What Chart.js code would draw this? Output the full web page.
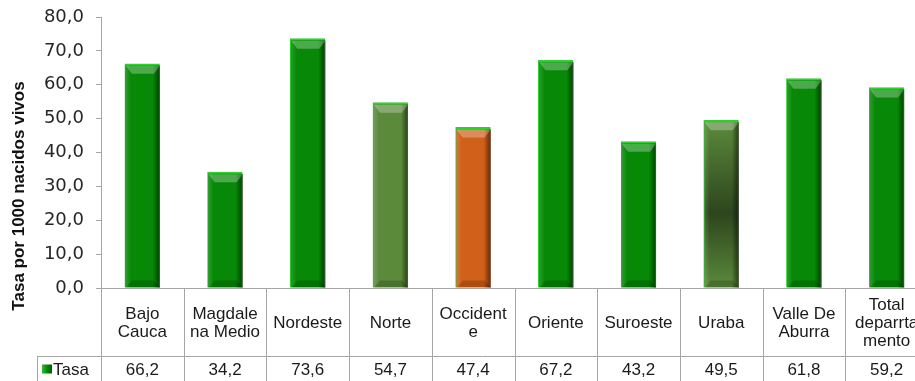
<!DOCTYPE html>
<html>
<head>
<meta charset="utf-8">
<script src="https://cdn.jsdelivr.net/npm/chart.js@4.4.1/dist/chart.umd.min.js"></script>
<style>
  html, body { margin: 0; padding: 0; overflow: hidden; background: #fff; }
  #wrap { width: 940px; height: 381px; }
</style>
</head>
<body>
<div id="wrap"><canvas id="chart" width="940" height="381"></canvas></div>
<script>
// data
const categories = [
  ['Bajo', 'Cauca'], ['Magdale', 'na Medio'], ['Nordeste'], ['Norte'], ['Occident', 'e'],
  ['Oriente'], ['Suroeste'], ['Uraba'], ['Valle De', 'Aburra'], ['Total', 'deparrta', 'mento']
];
const seriesName = 'Tasa';
const tasa = [66.2, 34.2, 73.6, 54.7, 47.4, 67.2, 43.2, 49.5, 61.8, 59.2];
const yMin = 0, yMax = 80, yStep = 10;
const yTitle = 'Tasa por 1000 nacidos vivos';

// styles
const GREEN = '#078907', OLIVE = '#5B8A3B', ORANGE = '#D1601B';
const barColors = [GREEN, GREEN, GREEN, OLIVE, ORANGE, GREEN, GREEN, OLIVE, GREEN, GREEN];
const darkMiddle = [false, false, false, false, false, false, false, true, false, false];
const lineColor = '#a6a6a6';
const tableFont = '17px "Liberation Sans", Arial, sans-serif';

const fmt = v => v.toFixed(1).replace('.', ',');

// 3D bevel look on top of the bars
const bevel = {
  id: 'bevel',
  afterDatasetsDraw(chart) {
    const ctx = chart.ctx;
    const meta = chart.getDatasetMeta(0);
    meta.data.forEach((bar, i) => {
      const p = bar.getProps(['x', 'y', 'base', 'width'], true);
      const l = p.x - p.width / 2 + 1, r = p.x + p.width / 2, t = p.y + 2, b = p.base;
      ctx.save();
      if (darkMiddle[i]) {
        const g = ctx.createLinearGradient(0, t, 0, b);
        g.addColorStop(0, 'rgba(0,0,0,0)');
        g.addColorStop(0.55, 'rgba(0,0,0,0.5)');
        g.addColorStop(1, 'rgba(0,0,0,0)');
        ctx.fillStyle = g;
        ctx.fillRect(l, t, r - l, b - t);
      }
      // right shade
      const gr = ctx.createLinearGradient(r - 7, 0, r, 0);
      gr.addColorStop(0, 'rgba(0,0,0,0)');
      gr.addColorStop(1, 'rgba(0,0,0,0.55)');
      ctx.fillStyle = gr;
      ctx.fillRect(r - 7, t, 7, b - t);
      // left light
      const gl = ctx.createLinearGradient(l, 0, l + 5, 0);
      gl.addColorStop(0, 'rgba(255,255,255,0.15)');
      gl.addColorStop(1, 'rgba(255,255,255,0)');
      ctx.fillStyle = gl;
      ctx.fillRect(l, t, 5, b - t);
      // top bevel
      ctx.beginPath();
      ctx.moveTo(l, t); ctx.lineTo(r, t); ctx.lineTo(r - 6, t + 8); ctx.lineTo(l + 6, t + 8); ctx.closePath();
      ctx.fillStyle = 'rgba(255,255,255,0.28)';
      ctx.fill();
      // bottom bevel
      ctx.beginPath();
      ctx.moveTo(l, b); ctx.lineTo(r, b); ctx.lineTo(r - 6, b - 7); ctx.lineTo(l + 6, b - 7); ctx.closePath();
      ctx.fillStyle = 'rgba(0,0,0,0.18)';
      ctx.fill();
      // right edge line
      ctx.fillStyle = 'rgba(90,90,90,0.7)';
      ctx.fillRect(r - 1, t, 1, b - t);
      ctx.restore();
    });
  }
};

// data table under the axis + vertical axis title
const dataTable = {
  id: 'dataTable',
  afterDraw(chart) {
    const ctx = chart.ctx;
    const x = chart.scales.x;
    const area = chart.chartArea;
    const n = categories.length;
    const w = (x.right - x.left) / n;
    const top = area.bottom, mid = top + 68, bot = mid + 27;
    ctx.save();
    ctx.strokeStyle = lineColor;
    ctx.lineWidth = 1;
    ctx.beginPath();
    for (let i = 0; i <= n; i++) {
      const xx = Math.round(x.left + i * w) + 0.5;
      ctx.moveTo(xx, top); ctx.lineTo(xx, bot);
    }
    ctx.moveTo(37.5, mid); ctx.lineTo(37.5, bot);
    ctx.moveTo(37, mid + 0.5); ctx.lineTo(x.right, mid + 0.5);
    ctx.stroke();

    ctx.fillStyle = '#1a1a1a';
    ctx.font = tableFont;
    ctx.textAlign = 'center';
    ctx.textBaseline = 'middle';
    const lh = 18;
    categories.forEach((lines, i) => {
      const cx = x.getPixelForValue(i);
      const y0 = (top + mid) / 2 - (lines.length - 1) * lh / 2 + 1;
      lines.forEach((s, j) => ctx.fillText(s, cx, y0 + j * lh));
      ctx.fillText(fmt(tasa[i]), cx, (mid + bot) / 2 + 1);
    });
    // legend key
    const ky = (mid + bot) / 2;
    const kg = ctx.createLinearGradient(42, 0, 52, 0);
    kg.addColorStop(0, '#2fbf2f'); kg.addColorStop(0.5, GREEN); kg.addColorStop(1, '#035a03');
    ctx.fillStyle = kg;
    ctx.fillRect(42, ky - 5, 10, 9);
    ctx.fillStyle = '#1a1a1a';
    ctx.textAlign = 'left';
    ctx.fillText(seriesName, 53, ky + 1);

    // axis title
    ctx.translate(19, 196);
    ctx.rotate(-Math.PI / 2);
    ctx.textAlign = 'center';
    ctx.font = 'bold 17px "Liberation Sans", Arial, sans-serif';
    ctx.fillStyle = '#111';
    ctx.fillText(yTitle, 0, 0);
    ctx.restore();
  }
};

new Chart(document.getElementById('chart').getContext('2d'), {
  type: 'bar',
  data: {
    labels: categories,
    datasets: [{
      label: seriesName,
      data: tasa,
      backgroundColor: barColors,
      borderColor: '#22d822',
      borderWidth: { top: 2, left: 1, right: 0, bottom: 0 },
      borderSkipped: false,
      barThickness: 35
    }]
  },
  options: {
    responsive: false,
    animation: false,
    layout: { padding: { top: 17, right: 12, left: 0, bottom: 0 } },
    plugins: { legend: { display: false }, tooltip: { enabled: false } },
    scales: {
      x: {
        ticks: { display: false },
        grid: { display: false, drawTicks: false },
        border: { display: true, color: lineColor },
        afterFit: s => { s.height = 93; }
      },
      y: {
        min: yMin,
        max: yMax,
        ticks: {
          stepSize: yStep,
          padding: 12,
          color: '#262626',
          font: { family: '"DejaVu Sans", sans-serif', size: 18 },
          callback: v => fmt(v)
        },
        grid: { drawOnChartArea: false, drawTicks: true, tickLength: 5, color: lineColor },
        border: { display: true, color: lineColor },
        afterFit: s => { s.width = 101; s.paddingTop = 0; s.paddingBottom = 0; }
      }
    }
  },
  plugins: [bevel, dataTable]
});
</script>
</body>
</html>
